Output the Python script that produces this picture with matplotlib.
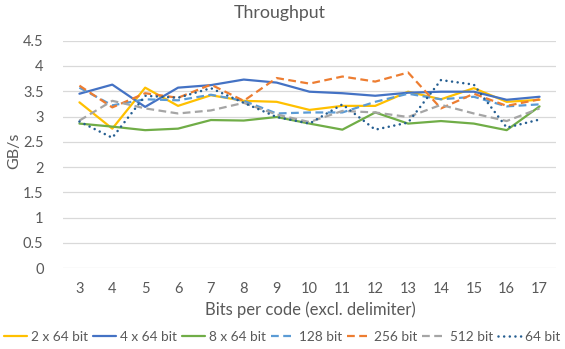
import matplotlib
matplotlib.use("Agg")
import matplotlib.pyplot as plt

plt.rcParams['font.family'] = ['Lato', 'DejaVu Sans']

bits = [3, 4, 5, 6, 7, 8, 9, 10, 11, 12, 13, 14, 15, 16, 17]

s_2x64 = [3.28, 2.76, 3.57, 3.21, 3.42, 3.31, 3.29, 3.13, 3.21, 3.21, 3.49, 3.34, 3.56, 3.29, 3.33]
s_4x64 = [3.45, 3.63, 3.19, 3.57, 3.62, 3.73, 3.67, 3.49, 3.46, 3.41, 3.47, 3.49, 3.49, 3.33, 3.39]
s_8x64 = [2.86, 2.80, 2.73, 2.76, 2.93, 2.92, 2.99, 2.86, 2.74, 3.08, 2.86, 2.91, 2.86, 2.73, 3.20]
s_128 = [3.57, 3.22, 3.34, 3.32, 3.43, 3.31, 3.06, 3.08, 3.08, 3.29, 3.45, 3.34, 3.39, 3.20, 3.24]
s_256 = [3.61, 3.18, 3.46, 3.37, 3.63, 3.31, 3.76, 3.65, 3.79, 3.69, 3.87, 3.16, 3.45, 3.21, 3.34]
s_512 = [2.92, 3.31, 3.16, 3.06, 3.12, 3.27, 3.04, 2.89, 3.11, 3.08, 2.99, 3.23, 3.06, 2.91, 3.16]
s_64 = [2.90, 2.58, 3.41, 3.37, 3.56, 3.27, 2.99, 2.86, 3.24, 2.74, 2.88, 3.72, 3.63, 2.78, 2.94]

y_ticks = [0, 0.5, 1, 1.5, 2, 2.5, 3, 3.5, 4, 4.5]
y_labels = ["0", "0.5", "1", "1.5", "2", "2.5", "3", "3.5", "4", "4.5"]

series = [
    ("2 x 64 bit", s_2x64, "#FFC000", "solid"),
    ("4 x 64 bit", s_4x64, "#4472C4", "solid"),
    ("8 x 64 bit", s_8x64, "#70AD47", "solid"),
    ("128 bit", s_128, "#5B9BD5", "dash"),
    ("256 bit", s_256, "#ED7D31", "dash"),
    ("512 bit", s_512, "#A5A5A5", "dash"),
    ("64 bit", s_64, "#255E91", "dot"),
]

text_c = "#595959"
fig = plt.figure(figsize=(5.65, 3.49), dpi=100)
ax = fig.add_axes([63 / 565, 1 - 268.3 / 349, (556 - 63) / 565, (268.3 - 40.6) / 349])

x = list(range(len(bits)))
lw = 1.6
for name, vals, col, style in series:
    if style == "solid":
        ax.plot(x, vals, color=col, lw=lw, label=name, solid_capstyle="round",
                solid_joinstyle="round")
    elif style == "dash":
        ax.plot(x, vals, color=col, lw=lw, label=name, dashes=(3.5, 2.0),
                dash_capstyle="butt")
    else:
        ax.plot(x, vals, color=col, lw=lw * 1.15, label=name, dashes=(0.01, 2.2),
                dash_capstyle="round")

ax.set_xlim(-0.5, len(bits) - 0.5)
ax.set_ylim(0, 4.5)
ax.set_yticks(y_ticks)
ax.set_yticklabels(y_labels)
ax.set_xticks(x)
ax.set_xticklabels([str(b) for b in bits])
ax.grid(axis="y", color="#D9D9D9", lw=0.9)
ax.set_axisbelow(True)
for sp in ax.spines.values():
    sp.set_visible(False)
ax.tick_params(length=0, colors=text_c, labelsize=10.5)
ax.tick_params(axis="y", pad=14)
ax.tick_params(axis="x", pad=10)

fig.text(280 / 565, 1 - 13 / 349, "Throughput", ha="center", va="center",
         fontsize=12.8, color=text_c)
fig.text(14 / 565, 1 - 151 / 349, "GB/s", ha="center", va="center", rotation=90,
         fontsize=11.5, color=text_c)
fig.text(310 / 565, 1 - 310 / 349, "Bits per code (excl. delimiter)", ha="center",
         va="center", fontsize=12, color=text_c)

leg = fig.legend(loc="center", bbox_to_anchor=(282 / 565, 1 - 337 / 349), ncol=7,
                 frameon=False, fontsize=9.8, handlelength=1.7, handletextpad=0.3,
                 columnspacing=0.37, labelcolor=text_c, borderpad=0)

fig.savefig("out.png", dpi=100)
